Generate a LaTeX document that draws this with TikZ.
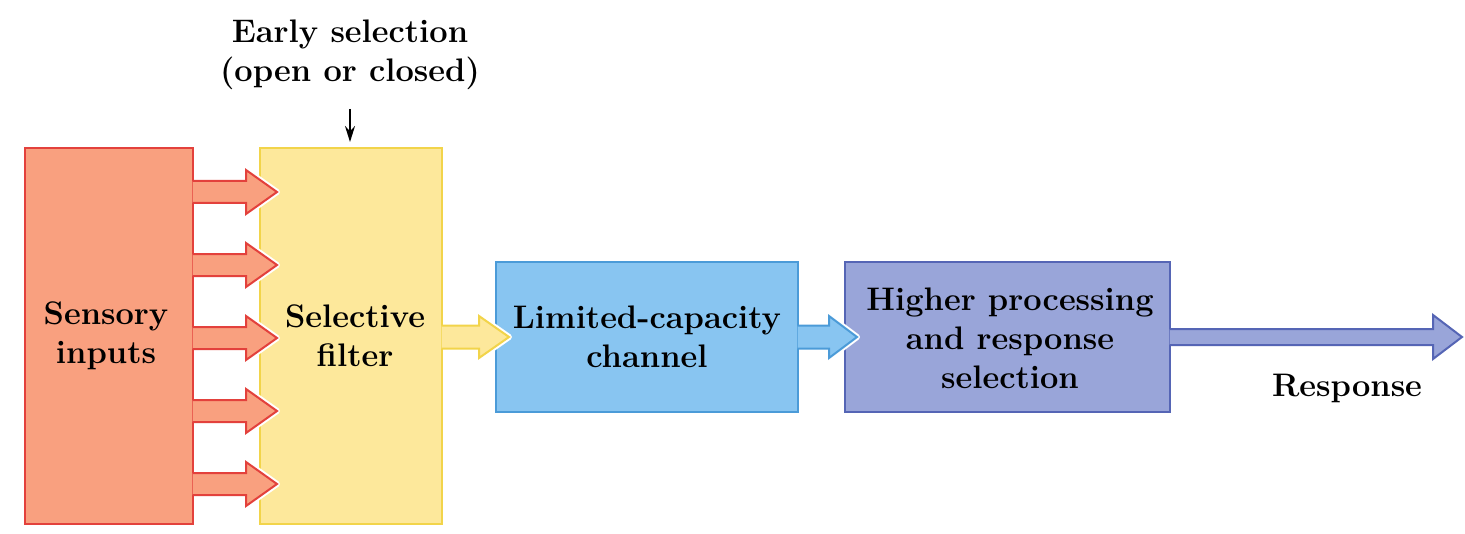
\documentclass[tikz,border=0pt]{standalone}
\usetikzlibrary{calc,arrows.meta}

\definecolor{sensfill}{HTML}{F9A07F}
\definecolor{sensline}{HTML}{E3413C}
\definecolor{filtfill}{HTML}{FDE89B}
\definecolor{filtline}{HTML}{F2D44A}
\definecolor{chanfill}{HTML}{88C5F1}
\definecolor{chanline}{HTML}{4B9BD8}
\definecolor{highfill}{HTML}{99A5D9}
\definecolor{highline}{HTML}{5565B5}

% block arrow: fill, line, start, tip, shaft half, head half, head length
\newcommand\blockarrow[7]{%
  \draw[white, line width=3pt, line join=round] ($(#4)+(-#7,-#6)$) -- (#4) -- ($(#4)+(-#7,#6)$);
  \fill[#1] ($(#3)+(-1.5,-#5)$) -- ($(#4)+(-#7,-#5)$) -- ($(#4)+(-#7,-#6)$) -- (#4)
    -- ($(#4)+(-#7,#6)$) -- ($(#4)+(-#7,#5)$) -- ($(#3)+(-1.5,#5)$) -- cycle;
  \draw[#2, line width=1pt, line join=miter] ($(#3)+(-1.5,-#5)$) -- ($(#4)+(-#7,-#5)$) -- ($(#4)+(-#7,-#6)$) -- (#4)
    -- ($(#4)+(-#7,#6)$) -- ($(#4)+(-#7,#5)$) -- ($(#3)+(-1.5,#5)$);
}

\tikzset{
  box/.style={draw, line width=1pt, inner sep=0pt, align=center},
  lbl/.style={font=\fontsize{16.3}{19.5}\selectfont\bfseries, align=center}
}

\begin{document}
\begin{tikzpicture}[x=0.5pt, y=-0.5pt]
  \useasboundingbox[fill=white] (0,0) rectangle (1465,534);

  % boxes
  \node[box, draw=sensline, fill=sensfill, minimum width=84pt, minimum height=188pt] (sens) at (109,336) {};
  \node[box, draw=filtline, fill=filtfill, minimum width=91pt, minimum height=188pt] (filt) at (351,336) {};
  \node[box, draw=chanline, fill=chanfill, minimum width=151pt, minimum height=75pt] (chan) at (647,337) {};
  \node[box, draw=highline, fill=highfill, minimum width=162.5pt, minimum height=75pt] (high) at (1007.5,337) {};

  % inputs into the filter
  \foreach \i/\y in {1/192,2/265,3/338,4/411,5/484} {
    \coordinate (s\i) at (sens.east |- 0,\y);
    \coordinate (t\i) at ($(filt.west |- 0,\y)+(18,0)$);
    \blockarrow{sensfill}{sensline}{s\i}{t\i}{11}{22}{31}
  }

  \coordinate (f1) at (filt.east |- 0,337);
  \coordinate (f2) at ($(chan.west)+(14,0)$);
  \blockarrow{filtfill}{filtline}{f1}{f2}{11.5}{21}{30}

  \coordinate (c1) at (chan.east);
  \coordinate (c2) at ($(high.west)+(13,0)$);
  \blockarrow{chanfill}{chanline}{c1}{c2}{11.5}{21}{28}

  \coordinate (h1) at (high.east);
  \coordinate (out) at (1462,337);
  \blockarrow{highfill}{highline}{h1}{out}{8}{22}{29}

  % labels
  \node[lbl] (sensl) at (106,336) {Sensory\\inputs};
  \node[lbl] (filtl) at (355,336) {Selective\\filter};
  \node[lbl] (chanl) at (647,337) {Limited-capacity\\channel};
  \node[lbl] (highl) at (1010,338) {Higher processing\\and response\\selection};
  \node[lbl] (resp) at (1347,388) {Response};
  \node[lbl] (sel) at (350,55) {Early selection\\(open or closed)};

  \draw[-{Stealth[length=8pt,width=5pt]}, line width=1pt, shorten <=6pt, shorten >=2.5pt]
    (sel.south) -- (sel.south |- filt.north);
\end{tikzpicture}
\end{document}
